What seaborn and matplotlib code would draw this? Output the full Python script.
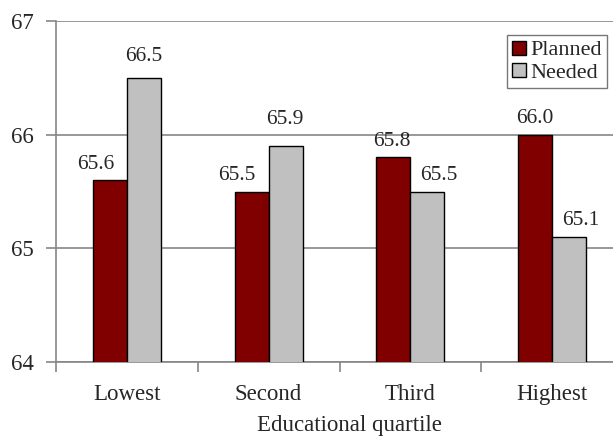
import matplotlib
matplotlib.use('Agg')
from matplotlib import pyplot as plt
import seaborn as sns
import pandas as pd

# ---------- DATA ----------
quartiles = ['Lowest', 'Second', 'Third', 'Highest']
planned = [65.6, 65.5, 65.8, 66.0]
needed = [66.5, 65.9, 65.5, 65.1]
series = ['Planned', 'Needed']
colors = ['#800000', '#C0C0C0']

df = pd.DataFrame({
    'quartile': quartiles * 2,
    'value': planned + needed,
    'series': ['Planned'] * 4 + ['Needed'] * 4,
})

sns.set_style('white')
plt.rcParams['font.family'] = ['Liberation Serif', 'DejaVu Serif']

fig = plt.figure(figsize=(6.13, 4.38), dpi=100)
ax = fig.add_axes([56 / 613, 1 - 362 / 438, (623 - 56) / 613, (362 - 21) / 438])

sns.barplot(data=df, x='quartile', y='value', hue='series', order=quartiles,
            hue_order=series, palette=colors, saturation=1, width=0.48,
            edgecolor='black', linewidth=1.0, ax=ax, zorder=3)

# bars start at 64, not 0
ax.set_ylim(64, 67)
ax.set_xlim(-0.5, 3.5)
ax.set_yticks([64, 65, 66, 67])
ax.yaxis.grid(True, color='#868686', linewidth=1.2, zorder=0)
ax.set_axisbelow(True)

# label nudges (pixels) as placed by hand in the original, per series / category
nudges = [
    [(-14, 6), (-15, 6), (-1, 6.5), (0, 6.5)],
    [(0, 11.5), (-1, 17.5), (11, 6.5), (12, 6.5)],
]
for c, nudge in zip(ax.containers, nudges):
    labels = ax.bar_label(c, fmt='%.1f', fontsize=15.5, padding=4)
    for ann, (dx, dy) in zip(labels, nudge):
        ann.xyann = (dx * 0.72, dy * 0.72)

ax.set_xlabel('Educational quartile', fontsize=16.5, labelpad=9)
ax.xaxis.set_label_coords((349 - 56) / 567, -0.155)
ax.set_ylabel('')
ax.tick_params(axis='both', labelsize=16.5, length=7, color='#868686', width=1.2,
               direction='out', bottom=False, left=True)
ax.tick_params(axis='y', pad=9)
ax.tick_params(axis='x', pad=9)

# category boundary ticks on x axis
ax.set_xticks([-0.5, 0.5, 1.5, 2.5], minor=True)
ax.tick_params(axis='x', which='minor', bottom=True, length=7, color='#868686', width=1.2)

for s in ['top', 'right']:
    ax.spines[s].set_visible(False)
for s in ['left', 'bottom']:
    ax.spines[s].set_color('#868686')
    ax.spines[s].set_linewidth(1.2)

ax.legend(loc='upper right', bbox_to_anchor=((607 - 56) / (623 - 56), 1 - 14 / 341),
          fontsize=16, frameon=True, fancybox=False, edgecolor='#555555',
          handlelength=0.6, handleheight=0.6, handletextpad=0.2,
          borderpad=0.25, labelspacing=0.1, borderaxespad=0)
ax.get_legend().get_frame().set_linewidth(1.0)

fig.savefig('out.png', dpi=100)
